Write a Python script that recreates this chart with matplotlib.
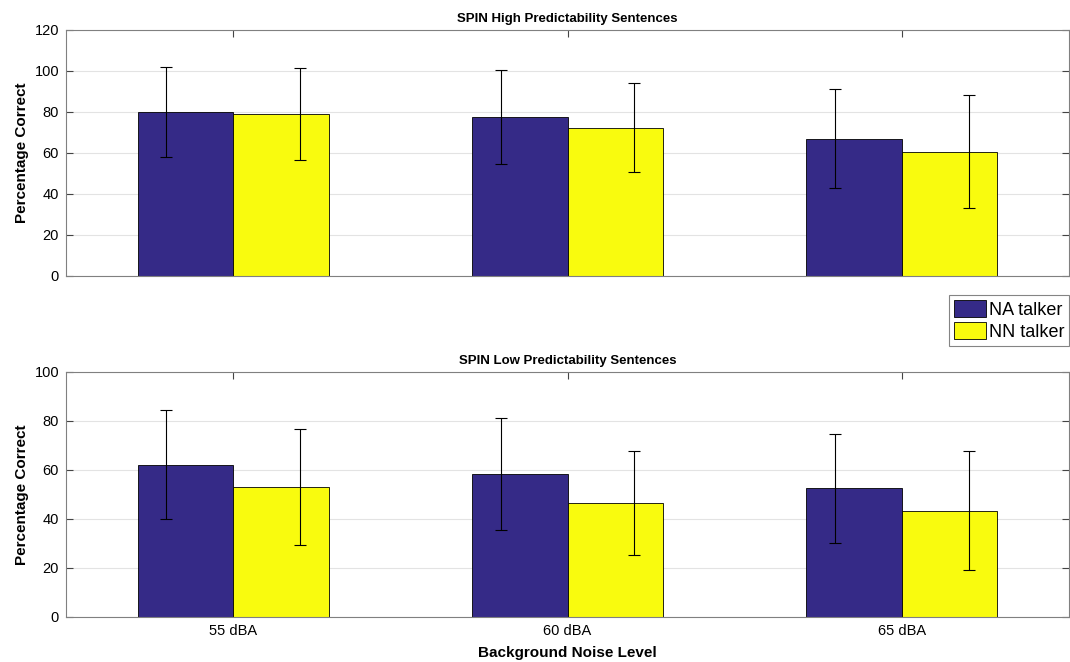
import matplotlib.pyplot as plt
import numpy as np

plt.rcParams['font.family'] = ['Liberation Sans', 'DejaVu Sans']

levels = ['55 dBA', '60 dBA', '65 dBA']
series = ['NA talker', 'NN talker']

# SPIN high predictability
high_na = [80.0, 77.6, 67.0]
high_na_err = [22.0, 22.9, 24.2]
high_nn = [79.0, 72.4, 60.6]
high_nn_err = [22.6, 21.7, 27.6]

# SPIN low predictability
low_na = [62.2, 58.4, 52.5]
low_na_err = [22.4, 22.8, 22.2]
low_nn = [53.1, 46.5, 43.4]
low_nn_err = [23.6, 21.4, 24.4]

c_na = '#352a87'
c_nn = '#f9fb0e'

fig = plt.figure(figsize=(10.7, 6.62), dpi=100)
ax1 = fig.add_axes([0.0617, 0.5831, 0.9374, 0.3716])
ax2 = fig.add_axes([0.0617, 0.068, 0.9374, 0.3701])

x = np.arange(1, len(levels) + 1)
w = 0.2857


def draw(ax, na, na_err, nn, nn_err, ymax, title):
    b1 = ax.bar(x - w / 2, na, w, color=c_na, edgecolor='black', linewidth=0.6, zorder=2, label=series[0])
    b2 = ax.bar(x + w / 2, nn, w, color=c_nn, edgecolor='black', linewidth=0.6, zorder=2, label=series[1])
    ax.errorbar(x - 0.2, na, yerr=na_err, fmt='none', ecolor='black', elinewidth=0.8,
                capsize=4.5, capthick=0.8, zorder=3)
    ax.errorbar(x + 0.2, nn, yerr=nn_err, fmt='none', ecolor='black', elinewidth=0.8,
                capsize=4.5, capthick=0.8, zorder=3)
    ax.set_xlim(0.5, 3.5)
    ax.set_ylim(0, ymax)
    ax.set_yticks(np.arange(0, ymax + 1, 20))
    ax.set_xticks(x)
    ax.grid(axis='y', color='#e3e3e3', linewidth=0.8, zorder=0)
    ax.set_axisbelow(True)
    for s in ax.spines.values():
        s.set_color('#808080')
    ax.tick_params(direction='in', top=True, right=True, length=5, color='#444444',
                   labelsize=10.5, pad=5)
    ax.set_ylabel('Percentage Correct', fontsize=11, fontweight='bold')
    ax.set_title(title, fontsize=9.5, fontweight='bold', pad=6)
    return b1, b2


draw(ax1, high_na, high_na_err, high_nn, high_nn_err, 120, 'SPIN High Predictability Sentences')
ax1.set_xticklabels([])
b1, b2 = draw(ax2, low_na, low_na_err, low_nn, low_nn_err, 100, 'SPIN Low Predictability Sentences')
ax2.set_xticklabels(levels)
ax2.set_xlabel('Background Noise Level', fontsize=11, fontweight='bold', labelpad=6)

leg = fig.legend([b1, b2], series, loc='upper right', bbox_to_anchor=(0.9995, 0.555),
                 fontsize=13, frameon=True, fancybox=False, handlelength=1.75, handleheight=1.05,
                 handletextpad=0.15, borderpad=0.3, labelspacing=0.2, borderaxespad=0)
leg.get_frame().set_edgecolor('#666666')
leg.get_frame().set_linewidth(0.8)

fig.savefig('out.png', dpi=100)
